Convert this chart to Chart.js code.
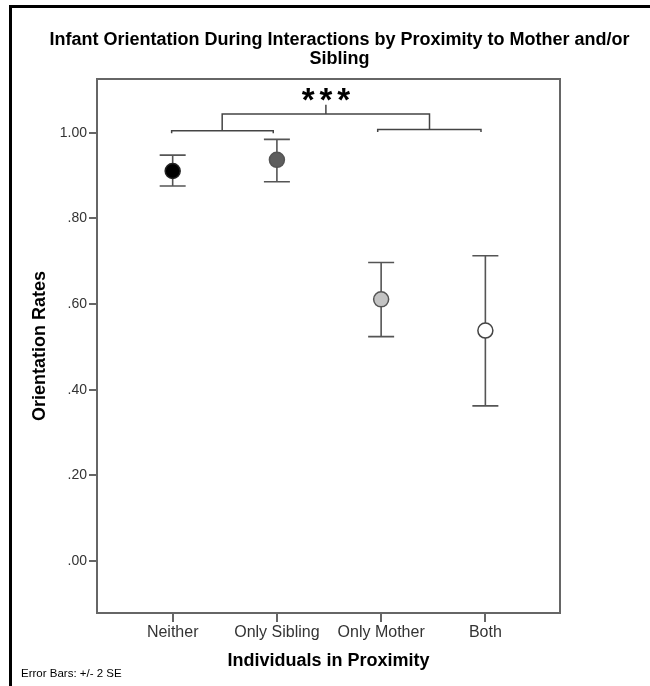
<!DOCTYPE html>
<html>
<head>
<meta charset="utf-8">
<script src="https://cdn.jsdelivr.net/npm/chart.js@4/dist/chart.umd.min.js"></script>
<style>
  html, body { margin: 0; padding: 0; background: #fff; }
  #wrap { position: relative; width: 650px; height: 686px; overflow: hidden; background: #fff; }
  #frame { position: absolute; left: 9px; top: 5px; width: 700px; height: 700px;
           border-left: 3px solid #000; border-top: 3px solid #000; box-sizing: border-box; }
  canvas { position: absolute; left: 0; top: 0; }
</style>
</head>
<body>
<div id="wrap">
  <div id="frame"></div>
  <canvas id="c" width="650" height="686"></canvas>
</div>
<script>
// ---- data ----
const categories = ['Neither', 'Only Sibling', 'Only Mother', 'Both'];
const means = [0.911, 0.937, 0.611, 0.538];
const lowerSE2 = [0.876, 0.886, 0.524, 0.362];
const upperSE2 = [0.948, 0.985, 0.697, 0.713];
const markerFills = ['#000000', '#5e5e5e', '#c4c4c4', '#ffffff'];
const yTickValues = [0, 0.2, 0.4, 0.6, 0.8, 1.0];
const yMin = -0.122, yMax = 1.126;
const xMin = -0.726, xMax = 3.716;
// significance brackets (in data units)
const bracketLeft = [[-0.01, 0.999], [-0.01, 1.005], [0.965, 1.005], [0.965, 0.999]];
const bracketRight = [[1.967, 1.002], [1.967, 1.008], [2.958, 1.008], [2.958, 1.002]];
const bracketTop = [[0.475, 1.005], [0.475, 1.044], [2.464, 1.044], [2.464, 1.008]];
const bracketRiser = [[1.47, 1.044], [1.47, 1.066]];
const sigLabel = '***';
const noteText = 'Error Bars: +/- 2 SE';

Chart.defaults.font.family = "'Liberation Sans', Arial, sans-serif";

const toPts = arr => arr.map(p => ({ x: p[0], y: p[1] }));
const lineDs = arr => ({
  type: 'scatter', data: toPts(arr), showLine: true, pointRadius: 0,
  borderColor: '#444', borderWidth: 1.5, fill: false
});

const errorBars = {
  id: 'errorBars',
  beforeDatasetsDraw(chart) {
    const { ctx, scales: { x, y } } = chart;
    ctx.save();
    ctx.strokeStyle = '#555';
    ctx.lineWidth = 1.6;
    categories.forEach((c, i) => {
      const px = x.getPixelForValue(i);
      const lo = y.getPixelForValue(lowerSE2[i]);
      const hi = y.getPixelForValue(upperSE2[i]);
      ctx.beginPath();
      ctx.moveTo(px, hi); ctx.lineTo(px, lo);
      ctx.moveTo(px - 13, hi); ctx.lineTo(px + 13, hi);
      ctx.moveTo(px - 13, lo); ctx.lineTo(px + 13, lo);
      ctx.stroke();
    });
    ctx.restore();
  }
};

const decor = {
  id: 'decor',
  afterDraw(chart) {
    const { ctx, chartArea: a, scales: { x, y } } = chart;
    ctx.save();
    // frame top & right
    ctx.strokeStyle = '#666';
    ctx.lineWidth = 2;
    ctx.beginPath();
    ctx.moveTo(a.left, a.top); ctx.lineTo(a.right, a.top); ctx.lineTo(a.right, a.bottom);
    ctx.stroke();
    // significance stars
    ctx.fillStyle = '#000';
    ctx.font = "bold 33px 'Liberation Sans', Arial, sans-serif";
    ctx.textAlign = 'center';
    ctx.textBaseline = 'alphabetic';
    try { ctx.letterSpacing = '5px'; } catch (e) {}
    const sx = x.getPixelForValue(bracketRiser[1][0]) + 2.5;
    const sy = y.getPixelForValue(bracketRiser[1][1]) + 6;
    ctx.fillText(sigLabel, sx, sy);
    try { ctx.letterSpacing = '0px'; } catch (e) {}
    // note
    ctx.font = "11.5px 'Liberation Sans', Arial, sans-serif";
    ctx.textAlign = 'left';
    ctx.textBaseline = 'middle';
    ctx.fillText(noteText, 21, 674);
    ctx.restore();
  }
};

new Chart(document.getElementById('c'), {
  type: 'scatter',
  data: {
    datasets: [
      lineDs(bracketLeft), lineDs(bracketRight), lineDs(bracketTop), lineDs(bracketRiser),
      {
        type: 'scatter',
        data: means.map((m, i) => ({ x: i, y: m })),
        pointRadius: 7.5,
        pointBackgroundColor: markerFills,
        pointBorderColor: ['#222', '#555', '#555', '#444'],
        pointBorderWidth: 1.5
      }
    ]
  },
  options: {
    responsive: false,
    animation: false,
    layout: { padding: { left: 29, right: 0, top: 0, bottom: 0 } },
    plugins: {
      legend: { display: false },
      tooltip: { enabled: false },
      title: {
        display: true,
        text: ['Infant Orientation During Interactions by Proximity to Mother and/or', 'Sibling'],
        color: '#000',
        font: { size: 18, weight: 'bold', lineHeight: 1.05 },
        padding: { top: 30.5, bottom: 10.7 }
      }
    },
    scales: {
      x: {
        type: 'linear', position: 'bottom', min: xMin, max: xMax,
        afterBuildTicks: s => { s.ticks = categories.map((c, i) => ({ value: i })); },
        afterFit: s => { s.height = 73; },
        ticks: {
          autoSkip: false, maxRotation: 0, color: '#333', font: { size: 16 }, padding: 1,
          callback: v => categories[v]
        },
        grid: { drawOnChartArea: false, drawTicks: true, tickLength: 9, color: '#666', lineWidth: 2 },
        border: { display: true, color: '#666', width: 2 },
        title: { display: true, text: 'Individuals in Proximity', color: '#000',
                 font: { size: 18, weight: 'bold' }, padding: { top: 4, bottom: 14 } }
      },
      y: {
        type: 'linear', position: 'left', min: yMin, max: yMax,
        afterBuildTicks: s => { s.ticks = yTickValues.map(v => ({ value: v })); },
        afterFit: s => { s.width = 68; },
        ticks: {
          color: '#333', font: { size: 14 }, padding: 2,
          callback: v => v.toFixed(2).replace(/^0/, '')
        },
        grid: { drawOnChartArea: false, drawTicks: true, tickLength: 8, color: '#666', lineWidth: 2 },
        border: { display: true, color: '#666', width: 2 },
        title: { display: true, text: 'Orientation Rates', color: '#000',
                 font: { size: 18, weight: 'bold' }, padding: { top: 0, bottom: 0 } }
      },
      yRight: {
        type: 'linear', position: 'right', display: true, min: 0, max: 1,
        afterFit: s => { s.width = 90; },
        ticks: { display: false },
        grid: { display: false },
        border: { display: false }
      }
    }
  },
  plugins: [errorBars, decor]
});
</script>
</body>
</html>
